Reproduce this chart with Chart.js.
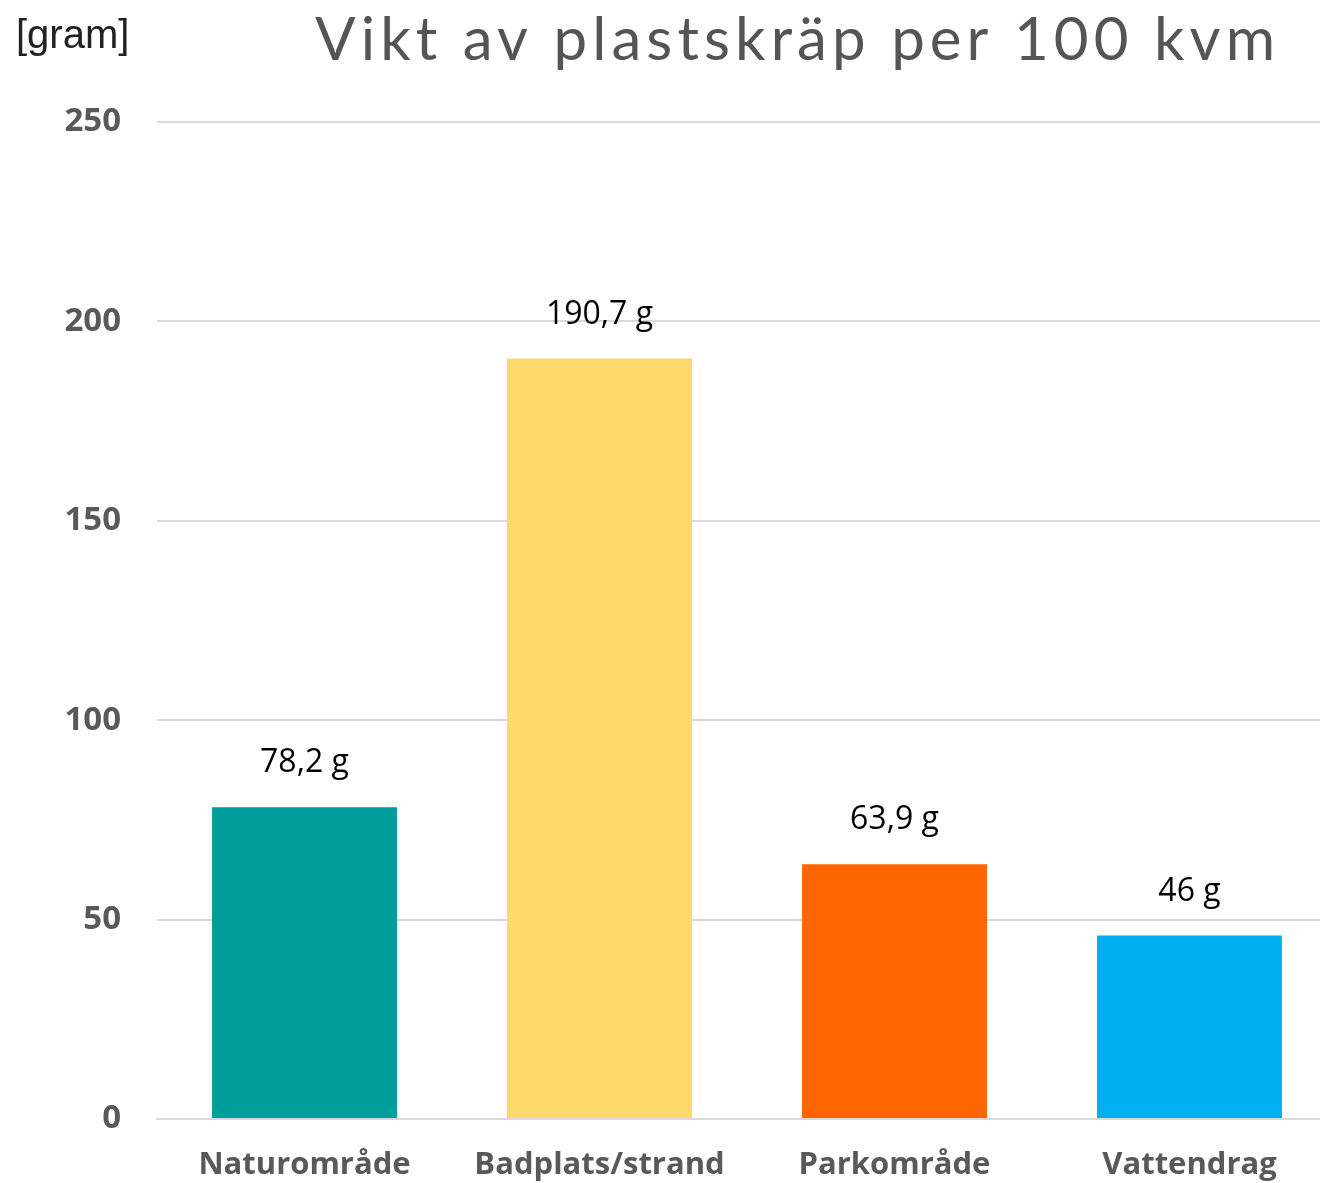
<!DOCTYPE html>
<html>
<head>
<meta charset="utf-8">
<script src="https://cdn.jsdelivr.net/npm/chart.js@4.4.1/dist/chart.umd.min.js"></script>
<style>
  html, body { margin: 0; padding: 0; background: #fff; overflow: hidden; }
  #wrap { width: 1320px; height: 1183px; overflow: hidden; position: relative; }
  canvas { display: block; }
</style>
</head>
<body>
<div id="wrap"><canvas id="mainChart" width="1338" height="1183"></canvas></div>
<script>
var categories = ['Naturområde', 'Badplats/strand', 'Parkområde', 'Vattendrag'];
var weights = [78.2, 190.7, 63.9, 46];
var valueLabels = ['78,2 g', '190,7 g', '63,9 g', '46 g'];
var barColors = ['#009e9a', '#fdd86a', '#ff6600', '#00b0f0'];
var yTicks = [0, 50, 100, 150, 200, 250];
var chartTitle = 'Vikt av plastskräp per 100 kvm';
var unitLabel = '[gram]';

// labels above bars + title and unit text
var extras = {
  id: 'extras',
  afterDatasetsDraw: function (chart) {
    var ctx = chart.ctx;
    var meta = chart.getDatasetMeta(0);
    ctx.save();
    ctx.fillStyle = '#000';
    ctx.font = '32px "Open Sans", sans-serif';
    ctx.textAlign = 'center';
    ctx.textBaseline = 'middle';
    meta.data.forEach(function (bar, i) {
      ctx.fillText(valueLabels[i], bar.x, bar.y - 44);
    });

    ctx.fillStyle = '#222';
    ctx.font = '40px "Liberation Sans", Arial, sans-serif';
    ctx.textAlign = 'left';
    ctx.textBaseline = 'alphabetic';
    ctx.fillText(unitLabel, 16, 48);

    ctx.fillStyle = '#555';
    ctx.font = '60px Lato, sans-serif';
    var w = ctx.measureText(chartTitle).width;
    var spacing = (960 - w) / (chartTitle.length - 1);
    ctx.letterSpacing = spacing + 'px';
    ctx.fillText(chartTitle, 315, 60);
    ctx.restore();
  }
};

new Chart(document.getElementById('mainChart').getContext('2d'), {
  type: 'bar',
  data: {
    labels: categories,
    datasets: [{
      data: weights,
      backgroundColor: barColors,
      borderWidth: 0,
      categoryPercentage: 1,
      barPercentage: 0.627
    }]
  },
  options: {
    responsive: false,
    animation: false,
    layout: { padding: { top: 122, right: 1, left: 0, bottom: 0 } },
    plugins: { legend: { display: false }, tooltip: { enabled: false }, title: { display: false } },
    scales: {
      x: {
        grid: { display: false, drawTicks: false },
        border: { display: true, color: '#d9d9d9', width: 2 },
        ticks: {
          color: '#595959',
          font: { family: '"Open Sans", sans-serif', size: 31, weight: 'bold' },
          padding: 28,
          maxRotation: 0
        },
        afterFit: function (s) { s.height = 64; }
      },
      y: {
        min: 0,
        max: 250,
        afterBuildTicks: function (s) { s.ticks = yTicks.map(function (v) { return { value: v }; }); },
        grid: { color: '#d9d9d9', lineWidth: 2, drawTicks: false },
        border: { display: false },
        ticks: {
          color: '#595959',
          font: { family: '"Open Sans", sans-serif', size: 33, weight: 'bold' },
          padding: 36
        },
        afterFit: function (s) { s.width = 157; }
      }
    }
  },
  plugins: [extras]
});
</script>
</body>
</html>
